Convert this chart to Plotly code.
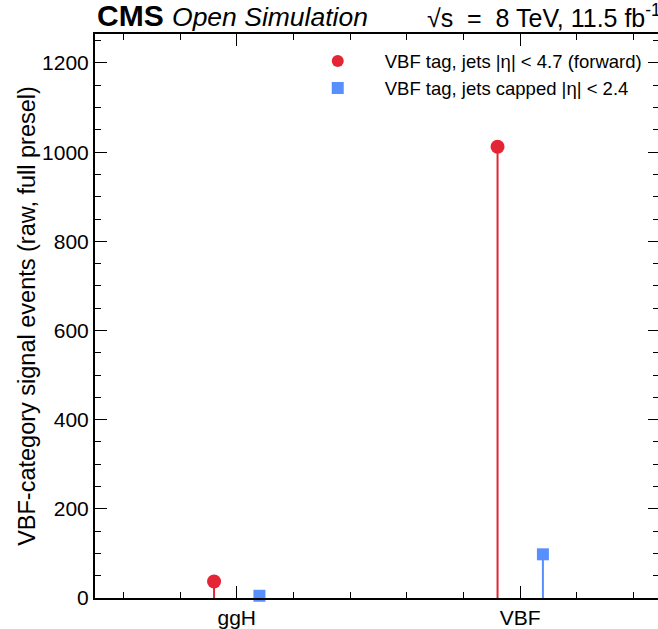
import numpy as np
import plotly.graph_objects as go

categories = ["ggH", "VBF"]
forward_vals = [37, 1012]
capped_vals = [5, 98]
series_names = ["VBF tag, jets |η| < 4.7 (forward)", "VBF tag, jets capped |η| < 2.4"]

RED = "#e42536"
BLUE = "#5790fc"
FONT = "Liberation Sans, Arial, Helvetica, sans-serif"

xpos = np.arange(len(categories))
off = 0.08

fig = go.Figure()
for vals, dx, color, sym, size, name in [
    (forward_vals, -off, RED, "circle", 14, series_names[0]),
    (capped_vals, off, BLUE, "square", 12, series_names[1]),
]:
    fig.add_trace(go.Scatter(
        x=xpos + dx, y=vals, mode="markers", name=name,
        marker=dict(color=color, symbol=sym, size=size, line=dict(width=0)),
        error_y=dict(type="data", symmetric=False, array=[0] * len(vals),
                     arrayminus=vals, color=color, thickness=2, width=0),
        cliponaxis=False,
    ))

# invisible trace to activate right-side mirrored tick axis
fig.add_trace(go.Scatter(x=[None], y=[None], yaxis="y2", showlegend=False, hoverinfo="skip"))

tickfont = dict(family=FONT, size=21, color="black")
fig.update_layout(
    width=658, height=629,
    margin=dict(l=95, r=0, t=34, b=31),
    plot_bgcolor="white", paper_bgcolor="white",
    font=dict(family=FONT, color="black"),
    xaxis=dict(
        range=[-0.5, 1.486], tickvals=list(xpos), ticktext=categories,
        ticks="inside", ticklen=12, tickwidth=1.3, tickcolor="black",
        showline=True, linecolor="black", linewidth=2, mirror="ticks",
        showgrid=False, zeroline=False, tickfont=tickfont,
        minor=dict(dtick=0.2, tick0=0, ticks="inside", ticklen=6, tickwidth=1, tickcolor="black", showgrid=False),
    ),
    yaxis=dict(
        range=[0, 1265], dtick=200, tick0=0,
        ticks="inside", ticklen=12, tickwidth=1.3, tickcolor="black",
        showline=True, linecolor="black", linewidth=2, mirror=False,
        showgrid=False, zeroline=False, tickfont=tickfont,
        title=dict(text="VBF-category signal events (raw, full presel)", font=dict(family=FONT, size=23.5, color="black"), standoff=0),
        minor=dict(dtick=50, ticks="inside", ticklen=6, tickwidth=1, tickcolor="black", showgrid=False),
    ),
    yaxis2=dict(
        range=[0, 1265], dtick=200, tick0=0, overlaying="y", side="right",
        ticks="inside", ticklen=10, tickwidth=1.3, tickcolor="black",
        showline=False, showgrid=False, zeroline=False, showticklabels=False,
        minor=dict(dtick=50, ticks="inside", ticklen=5, tickwidth=1, tickcolor="black", showgrid=False),
    ),
    legend=dict(
        x=0.98, y=0.985, xanchor="right", yanchor="top",
        bgcolor="rgba(0,0,0,0)", font=dict(family=FONT, size=18.5, color="black"),
        itemsizing="constant", tracegroupgap=0, itemwidth=84,
    ),
    showlegend=True,
)

fig.add_annotation(
    xref="paper", yref="paper", x=0, y=1, xanchor="left", yanchor="bottom", yshift=0,
    text="<b>CMS</b> <i><span style='font-size:26.5px'>Open Simulation</span></i>",
    showarrow=False, font=dict(family=FONT, size=30, color="black"),
)
fig.add_annotation(
    xref="paper", yref="paper", x=1, y=1, xanchor="right", yanchor="bottom", yshift=0, xshift=5,
    text="√s \u00a0=\u00a0 8 TeV, 11.5 fb<sup>-1</sup>",
    showarrow=False, font=dict(family=FONT, size=25, color="black"),
)

fig.write_html("out.html")
